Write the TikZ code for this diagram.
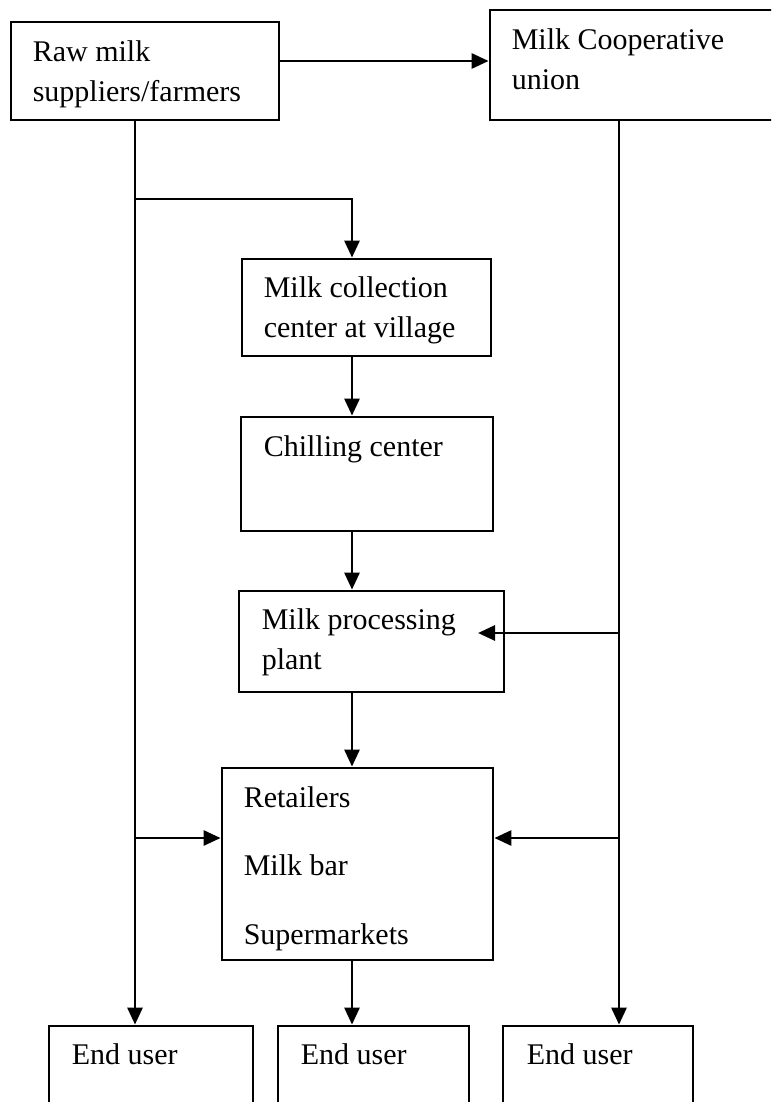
\documentclass[tikz,border=0pt]{standalone}
\usepackage{fontspec}
\setmainfont{Liberation Serif}
\usetikzlibrary{arrows.meta}
\tikzset{
  blk/.style={draw,line width=2.8pt,inner sep=0pt},
  txt/.style={anchor=north west,align=left,inner sep=0pt,font=\fontsize{30}{40}\selectfont},
  arr/.style={line width=2.8pt,-{Triangle[length=17pt,width=15pt]}},
}
\begin{document}
\begin{tikzpicture}[x=1pt,y=-1pt]
    \useasboundingbox (0,0) rectangle (771,1102);
    \clip (0,0) rectangle (771,1102);
    % boxes
    \node[blk,minimum width=268pt,minimum height=98pt](raw)at(145,71){};
    \node[blk,minimum width=290pt,minimum height=110pt](coop)at(635,65){};
    \node[blk,minimum width=249pt,minimum height=97pt](collect)at(366.5,307.5){};
    \node[blk,minimum width=252pt,minimum height=114pt](chill)at(367,474){};
    \node[blk,minimum width=265pt,minimum height=101pt](plant)at(371.5,641.5){};
    \node[blk,minimum width=271pt,minimum height=192pt](retail)at(357.5,864){};
    \node[blk,minimum width=204pt,minimum height=110pt](end1)at(151,1081){};
    \node[blk,minimum width=191pt,minimum height=110pt](end2)at(373.5,1081){};
    \node[blk,minimum width=190pt,minimum height=110pt](end3)at(598,1081){};
    % texts
    \node[txt](rawt)at([shift={(23,19.5)}]raw.north west){Raw milk\\suppliers/farmers};
    \node[txt](coopt)at([shift={(23,19.5)}]coop.north west){Milk Cooperative\\union};
    \node[txt](collectt)at([shift={(23,18.5)}]collect.north west){Milk collection\\center at village};
    \node[txt](chillt)at([shift={(24,19.5)}]chill.north west){Chilling center};
    \node[txt](plantt)at([shift={(24,18.5)}]plant.north west){Milk processing\\plant};
    \node[txt](retailt)at([shift={(23,19.5)}]retail.north west){Retailers\\[28.5pt]Milk bar\\[28.5pt]Supermarkets};
    \node[txt](end1t)at([shift={(24,18.5)}]end1.north west){End user};
    \node[txt](end2t)at([shift={(24,18.5)}]end2.north west){End user};
    \node[txt](end3t)at([shift={(25,18.5)}]end3.north west){End user};
    % columns of the connectors
    \coordinate(lft)at(135,0);
    \coordinate(mid)at(352,0);
    \coordinate(rgt)at(619,0);
    \coordinate(ep)at(478,633);
    \draw[arr]([yshift=10pt]raw.east)--([yshift=10pt]raw.east-|coop.west);
    \draw[arr](raw.south-|lft)--(end1.north-|lft);
    \draw[arr](lft|-0,199)-|(collect.north-|mid);
    \draw[arr](collect.south-|mid)--(chill.north-|mid);
    \draw[arr](chill.south-|mid)--(plant.north-|mid);
    \draw[arr](plant.south-|mid)--(retail.north-|mid);
    \draw[arr](retail.south-|mid)--(end2.north-|mid);
    \draw[arr](coop.south-|rgt)--(end3.north-|rgt);
    \draw[arr](rgt|-ep)--(ep);
    \draw[arr](lft|-0,838)--(retail.west|-0,838);
    \draw[arr](rgt|-0,838)--(retail.east|-0,838);
\end{tikzpicture}
\end{document}
